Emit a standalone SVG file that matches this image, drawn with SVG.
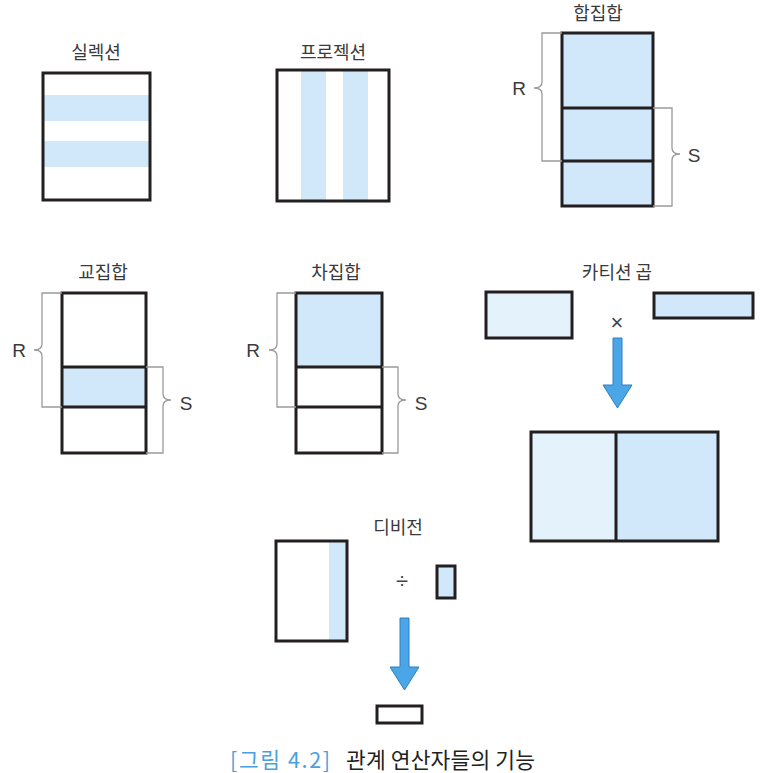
<svg xmlns="http://www.w3.org/2000/svg" width="760" height="773" viewBox="0 0 760 773">
<style>
.lbl{font-family:"Noto Sans CJK KR","Noto Sans",sans-serif;font-size:18px;fill:#3a3a3a;text-anchor:middle}
.rs{font-family:"Liberation Sans","Noto Sans",sans-serif;font-size:19px;fill:#3a3a3a;text-anchor:middle}
.box{fill:none;stroke:#231f20;stroke-width:3}
.div{stroke:#231f20;stroke-width:3}
.blue{fill:#d0e8f9}
.light{fill:#e4f2fc}
.br{fill:none;stroke:#9a9a9a;stroke-width:1.3}
.arrow{fill:#4aa6e6;stroke:#2f7fbf;stroke-width:1}
.op{font-family:"Liberation Sans","Noto Sans",sans-serif;font-size:22px;fill:#444;text-anchor:middle}
.cap{font-family:"Noto Sans CJK KR","Noto Sans",sans-serif;font-size:21.5px}
</style>
<rect width="760" height="773" fill="#fff"/>

<g id="selection">
<text class="lbl" x="96" y="59">실렉션</text>
<rect x="43" y="73" width="107" height="127" fill="#fff"/>
<rect class="blue" x="44" y="95" width="105" height="26"/>
<rect class="blue" x="44" y="141" width="105" height="26"/>
<rect class="box" x="43" y="73" width="107" height="127"/>
</g>

<g id="projection">
<text class="lbl" x="333" y="59">프로젝션</text>
<rect class="blue" x="301" y="71" width="25" height="129"/>
<rect class="blue" x="343" y="71" width="25" height="129"/>
<rect class="box" x="277" y="70" width="112" height="131"/>
</g>

<g id="union">
<text class="lbl" x="598" y="20">합집합</text>
<rect class="blue" x="562" y="33" width="91" height="173"/>
<line class="div" x1="562" y1="108" x2="653" y2="108"/>
<line class="div" x1="562" y1="161" x2="653" y2="161"/>
<rect class="box" x="562" y="33" width="91" height="173"/>
<path class="br" d="M562 33H542V82Q542 88 534 88Q542 88 542 94V161H562"/>
<path class="br" d="M653 108H672V148Q672 154 680 154Q672 154 672 160V206H653"/>
<text class="rs" x="519" y="95">R</text>
<text class="rs" x="694" y="162">S</text>
</g>

<g id="intersection">
<text class="lbl" x="103" y="279">교집합</text>
<rect class="blue" x="62" y="367" width="84" height="40"/>
<line class="div" x1="62" y1="367" x2="146" y2="367"/>
<line class="div" x1="62" y1="407" x2="146" y2="407"/>
<rect class="box" x="62" y="293" width="84" height="160"/>
<path class="br" d="M62 293H42V344Q42 350 34 350Q42 350 42 356V407H62"/>
<path class="br" d="M146 367H163V394Q163 400 171 400Q163 400 163 406V453H146"/>
<text class="rs" x="19" y="357">R</text>
<text class="rs" x="186" y="410">S</text>
</g>

<g id="difference">
<text class="lbl" x="336" y="279">차집합</text>
<rect class="blue" x="296" y="293" width="86" height="74"/>
<line class="div" x1="296" y1="367" x2="382" y2="367"/>
<line class="div" x1="296" y1="407" x2="382" y2="407"/>
<rect class="box" x="296" y="293" width="86" height="160"/>
<path class="br" d="M296 293H277V344Q277 350 269 350Q277 350 277 356V407H296"/>
<path class="br" d="M382 367H398V394Q398 400 406 400Q398 400 398 406V453H382"/>
<text class="rs" x="253" y="357">R</text>
<text class="rs" x="421" y="410">S</text>
</g>

<g id="cartesian">
<text class="lbl" x="617" y="279">카티션 곱</text>
<rect class="light" x="486" y="292" width="86" height="46" stroke="#231f20" stroke-width="3"/>
<rect class="blue" x="654" y="293" width="99" height="25" stroke="#231f20" stroke-width="3"/>
<text class="op" x="617" y="330">×</text>
<rect class="light" x="531" y="432" width="85" height="109"/>
<rect class="blue" x="616" y="432" width="102" height="109"/>
<line class="div" x1="616" y1="432" x2="616" y2="541"/>
<rect class="box" x="531" y="432" width="187" height="109"/>
</g>

<g id="division">
<text class="lbl" x="398" y="534">디비전</text>
<rect class="blue" x="329" y="542" width="18" height="98"/>
<rect class="box" x="276" y="541" width="71" height="100"/>
<text class="op" x="402" y="588">÷</text>
<rect class="blue" x="437" y="566" width="18" height="32" stroke="#231f20" stroke-width="3"/>
<rect class="box" x="377" y="706" width="45" height="17"/>
</g>

<g id="connectors">
<path class="arrow" d="M613 338H622V385H632L617.5 408L603 385H613Z"/>
<path class="arrow" d="M400 618H409V667H419L404.5 690L390 667H400Z"/>
</g>

<g id="caption">
<text class="cap" x="230" y="768" fill="#4a9fe0" textLength="100" lengthAdjust="spacing">[그림 4.2]</text>
<text class="cap" x="346" y="768" fill="#231f20" textLength="189" lengthAdjust="spacing">관계 연산자들의 기능</text>
</g>
</svg>
